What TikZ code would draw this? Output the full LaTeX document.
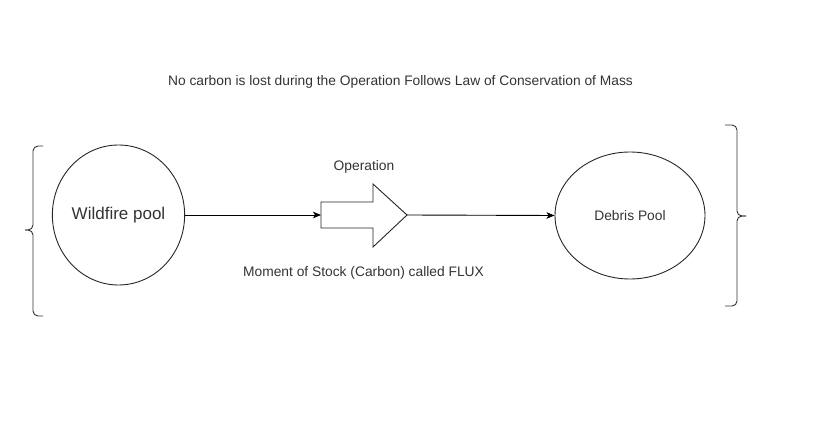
\documentclass[tikz,border=0pt]{standalone}
\usepackage{fontspec}
\setmainfont{Liberation Sans}
\usetikzlibrary{shapes.geometric,arrows.meta}
\begin{document}
\begin{tikzpicture}[x=1pt,y=-1pt,
  pool/.style={draw=black!85, line width=0.9pt, ellipse, inner sep=0pt, text=black!80},
  flow/.style={draw=black, line width=0.9pt, -{Stealth[length=8pt,width=6.5pt,inset=2pt]}},
  lbl/.style={text=black!80, inner sep=0pt, font=\fontsize{13.8}{16}\selectfont},
  brace/.style={draw=black!80, line width=0.9pt, rounded corners=5pt},
  blockarrow/.style={draw=black!85, line width=0.9pt, fill=white}]
\useasboundingbox (0,0) rectangle (836,438);
\node[lbl] (title) at (400.5,82) {No carbon is lost during the Operation Follows Law of Conservation of Mass};
\node[pool, minimum width=129pt, minimum height=140pt, font=\fontsize{17}{20}\selectfont] (wild) at (118.5,215) {Wildfire pool};
\node[pool, minimum width=150pt, minimum height=127pt, font=\fontsize{13.8}{16}\selectfont] (debris) at (630,215.5) {Debris Pool};
\coordinate (opin) at (321,215);
\coordinate (optip) at (407,215);
\draw[blockarrow] (321,202) -- (373,202) -- (373,184) -- (optip) -- (373,247) -- (373,228) -- (321,228) -- cycle;
\node[lbl] (oplbl) at (364,167) {Operation};
\node[lbl] (fluxlbl) at (363.5,273) {Moment of Stock (Carbon) called FLUX};
\draw[flow] (wild.east) -- (opin);
\draw[flow] (optip) -- (debris.west);
% left brace
\draw[brace] (43,146) -| (33,230) -- (25,230);
\draw[brace] (43,316) -| (33,230) -- (25,230);
% right brace
\draw[brace] (725,125) -| (737,216) -- (746,216);
\draw[brace] (725,306) -| (737,216) -- (746,216);
\end{tikzpicture}
\end{document}
